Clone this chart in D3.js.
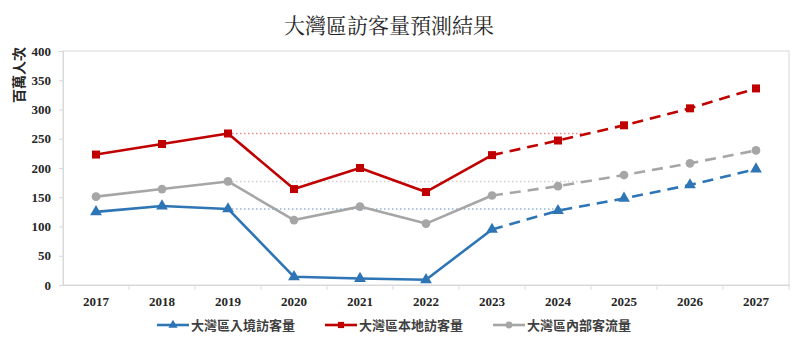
<!DOCTYPE html>
<html>
<head>
<meta charset="utf-8">
<script src="https://cdn.jsdelivr.net/npm/d3@7"></script>
<style>
  body { margin: 0; background: #fff; }
  svg { display: block; }
</style>
</head>
<body>
<svg id="chart" width="800" height="339"></svg>
<script>
// years and series (百萬人次)
const years = [2017, 2018, 2019, 2020, 2021, 2022, 2023, 2024, 2025, 2026, 2027];
const inbound = [125, 135, 130, 14, 11, 9, 95, 127, 148, 171, 198];
const local = [223, 241, 259, 164, 200, 159, 222, 247, 273, 302, 336];
const internal = [151, 164, 177, 111, 134, 105, 153, 169, 188, 208, 230];
const yTicks = [0, 50, 100, 150, 200, 250, 300, 350, 400];
const lastActual = 2023;
const baseYear = 2019;

const series = [
    { name: '大灣區入境訪客量', values: inbound, color: '#2e75b6', dotColor: '#8fb4dc', marker: 'triangle' },
    { name: '大灣區本地訪客量', values: local, color: '#c00000', dotColor: '#e88a8a', marker: 'square' },
    { name: '大灣區內部客流量', values: internal, color: '#a6a6a6', dotColor: '#cfcfcf', marker: 'circle' }
];

const svg = d3.select('#chart');
const margin = { top: 51, right: 11, bottom: 54, left: 63 };
const width = 800 - margin.left - margin.right;
const height = 339 - margin.top - margin.bottom;

const x = d3.scaleBand().domain(years).range([0, width]);
const cx = yr => x(yr) + x.bandwidth() / 2;
const y = d3.scaleLinear().domain([0, 400]).range([height, 0]);

// title
svg.append('text')
    .attr('x', 389).attr('y', 33)
    .attr('text-anchor', 'middle')
    .style('font-family', "'Noto Serif CJK TC', 'Noto Sans CJK TC', serif")
    .style('font-size', '21px')
    .style('fill', '#262626')
    .text('大灣區訪客量預測結果');

const g = svg.append('g').attr('transform', `translate(${margin.left},${margin.top})`);

// plot frame
g.append('rect')
    .attr('width', width).attr('height', height)
    .attr('fill', 'none').attr('stroke', '#d9d9d9').attr('stroke-width', 1);

// y axis
const yAxis = g.append('g')
    .call(d3.axisLeft(y).tickValues(yTicks).tickSize(4).tickPadding(8));
yAxis.select('.domain').attr('stroke', '#d9d9d9');
yAxis.selectAll('.tick line').attr('stroke', '#d9d9d9');
yAxis.selectAll('text')
    .style('font-family', "'Liberation Serif', serif")
    .style('font-weight', 'bold')
    .style('font-size', '13px')
    .style('fill', '#262626');

// x axis with ticks between categories
const xAxis = g.append('g').attr('transform', `translate(0,${height})`)
    .call(d3.axisBottom(x).tickSize(0).tickPadding(12));
xAxis.select('.domain').attr('stroke', '#d9d9d9');
xAxis.selectAll('text')
    .style('font-family', "'Liberation Serif', serif")
    .style('font-weight', 'bold')
    .style('font-size', '13px')
    .style('fill', '#262626');
g.append('g').selectAll('line')
    .data(years.slice(1).concat(['end']))
    .join('line')
    .attr('x1', d => d === 'end' ? width : x(d))
    .attr('x2', d => d === 'end' ? width : x(d))
    .attr('y1', height).attr('y2', height + 5)
    .attr('stroke', '#d9d9d9');

// y axis label
svg.append('text')
    .attr('transform', 'translate(24,47) rotate(-90)')
    .attr('text-anchor', 'end')
    .style('font-family', "'Noto Sans CJK TC', sans-serif")
    .style('font-weight', 'bold')
    .style('font-size', '14px')
    .style('fill', '#262626')
    .text('百萬人次');

// reference dotted lines from 2019 level until forecast reaches it
series.forEach(s => {
    const bi = years.indexOf(baseYear);
    const level = s.values[bi];
    let endX = cx(years[years.length - 1]);
    for (let i = years.indexOf(lastActual); i < years.length - 1; i++) {
        const a = s.values[i], b = s.values[i + 1];
        if (a <= level && b >= level) {
            const t = (level - a) / (b - a);
            endX = cx(years[i]) + t * (cx(years[i + 1]) - cx(years[i]));
            break;
        }
    }
    g.append('line')
        .attr('x1', cx(baseYear)).attr('x2', endX)
        .attr('y1', y(level)).attr('y2', y(level))
        .attr('stroke', s.dotColor).attr('stroke-width', 1.5)
        .attr('stroke-dasharray', '1.5,2.5');
});

const line = d3.line().x(d => cx(d.year)).y(d => y(d.value));
const symbols = { triangle: d3.symbolTriangle, square: d3.symbolSquare, circle: d3.symbolCircle };
const symbolSize = { triangle: 60, square: 64, circle: 60 };

series.forEach(s => {
    const pts = years.map((yr, i) => ({ year: yr, value: s.values[i] }));
    const actual = pts.filter(d => d.year <= lastActual);
    const forecast = pts.filter(d => d.year >= lastActual);
    g.append('path').datum(actual)
        .attr('d', line).attr('fill', 'none')
        .attr('stroke', s.color).attr('stroke-width', 2.6)
        .attr('stroke-linejoin', 'round');
    g.append('path').datum(forecast)
        .attr('d', line).attr('fill', 'none')
        .attr('stroke', s.color).attr('stroke-width', 2.6)
        .attr('stroke-dasharray', '11,7');
    g.selectAll(null).data(pts).join('path')
        .attr('transform', d => `translate(${cx(d.year)},${y(d.value)})`)
        .attr('d', d3.symbol(symbols[s.marker], symbolSize[s.marker]))
        .attr('fill', s.color);
});

// legend
const legendX = [157, 325, 493];
const legend = svg.append('g').attr('transform', 'translate(0,325)');
series.forEach((s, i) => {
    const lg = legend.append('g').attr('transform', `translate(${legendX[i]},0)`);
    lg.append('line').attr('x1', 0).attr('x2', 32).attr('y1', 0).attr('y2', 0)
        .attr('stroke', s.color).attr('stroke-width', 2.6);
    lg.append('path').attr('transform', 'translate(16,0)')
        .attr('d', d3.symbol(symbols[s.marker], symbolSize[s.marker] * 0.6))
        .attr('fill', s.color);
    lg.append('text').attr('x', 34).attr('y', 0).attr('dy', '0.35em')
        .style('font-family', "'Noto Sans CJK TC', sans-serif")
        .style('font-weight', 'bold')
        .style('font-size', '13px')
        .style('fill', '#404040')
        .text(s.name);
});
</script>
</body>
</html>
